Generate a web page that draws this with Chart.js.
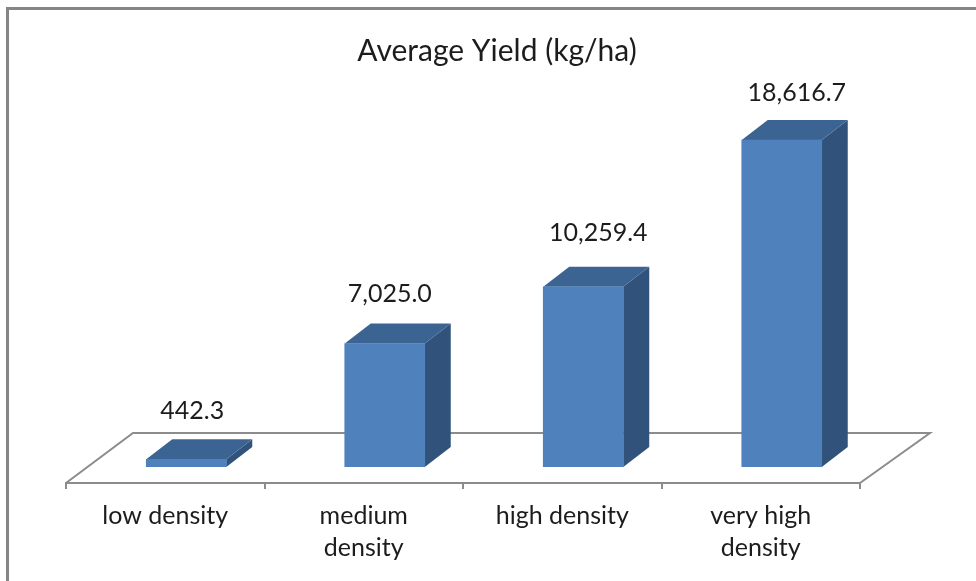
<!DOCTYPE html>
<html lang="en">
<head>
  <meta charset="UTF-8">
  <title>Average Yield (kg/ha)</title>
  <style>
    body { margin: 0; background: #fff; }
    canvas { display: block; }
  </style>
  <script src="https://cdn.jsdelivr.net/npm/chart.js"></script>
</head>
<body>
  <canvas id="yieldChart" width="976" height="581"></canvas>

  <script>
    // Values
    const categories = ['low density', ['medium', 'density'], 'high density', ['very high', 'density']];
    const yieldValues = [442.3, 7025.0, 10259.4, 18616.7];

    const textColor = '#1c1c1c';
    const lineColor = '#8c8c8c';
    const frontColor = '#4f81bd';
    const topColor = '#3b6492';
    const sideColor = '#31537b';
    const fontFamily = 'Lato, sans-serif';

    // Fake 3D: bars stand on the floor, pushed back from the front edge
    const barShift = { x: 21, y: -16 };
    const barDepth = { x: 26, y: -20 };
    const floorBack = { left: 67, right: 70, y: -50 };
    // Nudges for the value labels, relative to the bar centre and top
    const labelDx = [6, 5, 15, 15];
    const labelDy = [48, 50, 54, 47];

    function polygon(ctx, pts, color) {
      ctx.fillStyle = color;
      ctx.beginPath();
      pts.forEach((p, i) => i ? ctx.lineTo(p[0], p[1]) : ctx.moveTo(p[0], p[1]));
      ctx.closePath();
      ctx.fill();
    }

    const fake3d = {
      id: 'fake3d',
      beforeDraw(chart) {
        // Outer frame, only left and top are in the picture
        const ctx = chart.ctx;
        ctx.fillStyle = '#868686';
        ctx.fillRect(6, 7, 970, 3);
        ctx.fillRect(6, 7, 3, 574);
      },
      beforeDatasetsDraw(chart) {
        const ctx = chart.ctx;
        const area = chart.chartArea;

        // Floor outline behind the bars
        ctx.strokeStyle = lineColor;
        ctx.lineWidth = 2;
        ctx.beginPath();
        ctx.moveTo(area.left, area.bottom);
        ctx.lineTo(area.left + floorBack.left, area.bottom + floorBack.y);
        ctx.lineTo(area.right + floorBack.right, area.bottom + floorBack.y);
        ctx.lineTo(area.right, area.bottom);
        ctx.stroke();

        // Sides and tops, then the library draws the fronts on the same shift
        ctx.save();
        ctx.translate(barShift.x, barShift.y);
        chart.getDatasetMeta(0).data.forEach(bar => {
          const l = bar.x - bar.width / 2;
          const r = bar.x + bar.width / 2;
          const dx = barDepth.x;
          const dy = barDepth.y;
          polygon(ctx, [[r, bar.y], [r + dx, bar.y + dy], [r + dx, bar.base + dy], [r, bar.base]], sideColor);
          polygon(ctx, [[l, bar.y], [l + dx, bar.y + dy], [r + dx, bar.y + dy], [r, bar.y]], topColor);
        });
      },
      afterDatasetsDraw(chart) {
        const ctx = chart.ctx;
        ctx.restore();

        ctx.fillStyle = textColor;
        ctx.font = '25px ' + fontFamily;
        ctx.textAlign = 'center';
        ctx.textBaseline = 'middle';
        chart.getDatasetMeta(0).data.forEach((bar, i) => {
          const text = yieldValues[i].toLocaleString('en-US', { minimumFractionDigits: 1, maximumFractionDigits: 1 });
          ctx.fillText(text, bar.x + barShift.x + labelDx[i], bar.y + barShift.y - labelDy[i]);
        });
      }
    };

    new Chart(document.getElementById('yieldChart'), {
      type: 'bar',
      data: {
        labels: categories,
        datasets: [{
          data: yieldValues,
          backgroundColor: frontColor,
          barThickness: 80
        }]
      },
      plugins: [fake3d],
      options: {
        responsive: false,
        animation: false,
        layout: { padding: { left: 18 } }, // moves the title centre to the right
        plugins: {
          legend: { display: false },
          tooltip: { enabled: false },
          title: {
            display: true,
            text: 'Average Yield (kg/ha)',
            color: textColor,
            font: { family: fontFamily, size: 30, weight: 'normal', lineHeight: 1.2 },
            padding: { top: 33, bottom: 27.6 }
          }
        },
        scales: {
          x: {
            grid: { drawOnChartArea: false, color: lineColor, lineWidth: 2, tickLength: 6 },
            border: { color: lineColor, width: 2 },
            ticks: {
              color: textColor,
              font: { family: fontFamily, size: 25, lineHeight: 1.28 },
              maxRotation: 0,
              autoSkip: false,
              padding: 11
            },
            afterFit(scale) { scale.height = 98; }
          },
          y: {
            min: 0,
            max: 22000,
            grid: { display: false },
            border: { display: false },
            ticks: { display: false },
            afterFit(scale) { scale.width = 48; }
          },
          // empty axis, only holds the right margin of the plot
          yRight: {
            axis: 'y',
            position: 'right',
            grid: { display: false },
            border: { display: false },
            ticks: { display: false },
            afterFit(scale) { scale.width = 116; }
          }
        }
      }
    });
  </script>
</body>
</html>
